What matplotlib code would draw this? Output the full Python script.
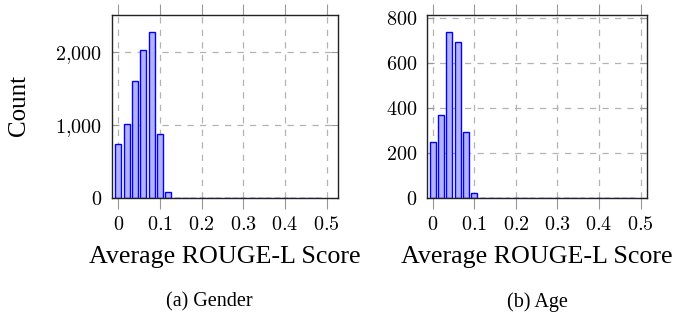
import numpy as np
import matplotlib
matplotlib.use('Agg')
import matplotlib.pyplot as plt
from matplotlib.ticker import FuncFormatter

# histogram bins (centres) and counts
bins = [round(0.02 * i, 2) for i in range(25)]
gender_counts = [732, 1013, 1605, 2019, 2269, 869, 78] + [0] * 18
age_counts = [248, 367, 739, 695, 295, 24] + [0] * 19

x_ticks = [0, 0.1, 0.2, 0.3, 0.4, 0.5]
gender_yticks = [0, 1000, 2000]
age_yticks = [0, 200, 400, 600, 800]

plt.rcParams['font.family'] = ['Liberation Serif', 'DejaVu Serif']
plt.rcParams['mathtext.fontset'] = 'cm'

fig = plt.figure(figsize=(6.77, 3.14), dpi=100)

W, H = 677, 314


def box(x0, y0, x1, y1):
    return [x0 / W, 1 - y1 / H, (x1 - x0) / W, (y1 - y0) / H]


def xfmt(v, pos):
    if abs(v) < 1e-9:
        return '$0$'
    return '$%g$' % v


def yfmt(v, pos):
    s = '{:,}'.format(int(round(v))).replace(',', '{,}')
    return '$' + s + '$'


def draw(ax, counts, yticks, ylim, xlim):
    ax.bar(bins, counts, width=0.014, color=(0.7, 0.7, 1.0),
           edgecolor='blue', linewidth=1.0, zorder=3)
    ax.set_xlim(*xlim)
    ax.set_ylim(*ylim)
    ax.set_xticks(x_ticks)
    ax.set_yticks(yticks)
    ax.xaxis.set_major_formatter(FuncFormatter(xfmt))
    ax.yaxis.set_major_formatter(FuncFormatter(yfmt))
    ax.grid(True, color='#b3b3b3', linestyle=(0, (5, 5)), linewidth=0.9, zorder=0)
    ax.tick_params(axis='x', direction='out', length=8, width=0.8,
                   color='#999999', top=True, labelsize=14.5, pad=5)
    ax.tick_params(axis='y', direction='in', length=5, width=0.8,
                   color='#999999', right=True, labelsize=14.5, pad=7)
    for s in ax.spines.values():
        s.set_linewidth(1.0)
        s.set_color('#222222')
        s.set_zorder(4)


ax1 = fig.add_axes(box(112, 15, 338, 198))
draw(ax1, gender_counts, gender_yticks, (0, 2500), (-0.015, 0.527))

ax2 = fig.add_axes(box(426.7, 15, 647.3, 198))
draw(ax2, age_counts, age_yticks, (0, 813), (-0.0144, 0.516))

fig.text(19 / W, 1 - 106 / H, 'Count', rotation=90, fontsize=18,
         ha='center', va='center')
fig.text(225 / W, 1 - 257 / H, 'Average ROUGE-L Score', fontsize=18.7,
         ha='center', va='center')
fig.text(537 / W, 1 - 257 / H, 'Average ROUGE-L Score', fontsize=18.7,
         ha='center', va='center')
fig.text(209 / W, 1 - 302 / H, '(a) Gender', fontsize=14.5,
         ha='center', va='center')
fig.text(537 / W, 1 - 302 / H, '(b) Age', fontsize=14.5,
         ha='center', va='center')

fig.savefig('out.png', dpi=100)
